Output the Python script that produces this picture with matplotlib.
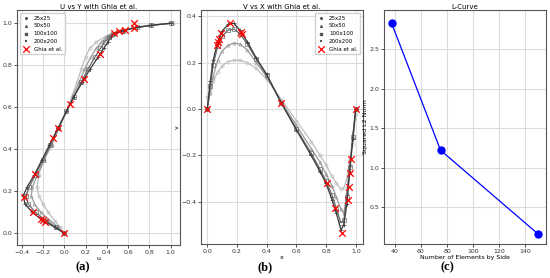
import matplotlib
matplotlib.use("Agg")
import matplotlib.pyplot as plt

# --- U along vertical centreline -------------------------------------------
y_profile = [0.0, 0.03, 0.06, 0.10, 0.14, 0.18, 0.22, 0.28, 0.35, 0.42, 0.50, 0.58,
             0.65, 0.72, 0.78, 0.84, 0.88, 0.91, 0.935, 0.95, 0.965, 0.98, 0.99, 1.0]
u_25 = [0.0, -0.04, -0.09, -0.15, -0.20, -0.24, -0.255, -0.24, -0.19, -0.12, -0.05, 0.02,
        0.07, 0.12, 0.16, 0.20, 0.24, 0.30, 0.38, 0.44, 0.53, 0.66, 0.80, 1.02]
u_50 = [0.0, -0.06, -0.13, -0.22, -0.28, -0.31, -0.30, -0.25, -0.19, -0.12, -0.05, 0.02,
        0.08, 0.14, 0.19, 0.25, 0.30, 0.35, 0.40, 0.45, 0.54, 0.67, 0.82, 1.01]
u_100 = [0.0, -0.08, -0.17, -0.27, -0.34, -0.36, -0.33, -0.27, -0.20, -0.13, -0.06, 0.02,
         0.09, 0.16, 0.22, 0.29, 0.34, 0.38, 0.42, 0.46, 0.55, 0.68, 0.82, 1.0]
u_200 = [0.0, -0.09, -0.20, -0.30, -0.37, -0.385, -0.35, -0.28, -0.21, -0.14, -0.06, 0.02,
         0.09, 0.17, 0.24, 0.32, 0.37, 0.41, 0.44, 0.47, 0.56, 0.68, 0.82, 1.0]

ghia_y = [1.0, 0.9766, 0.9688, 0.9609, 0.9531, 0.8516, 0.7344, 0.6172, 0.5, 0.4531,
          0.2813, 0.1719, 0.1016, 0.0703, 0.0625, 0.0547, 0.0]
ghia_u = [0.659, 0.659, 0.575, 0.511, 0.466, 0.333, 0.187, 0.057, -0.061, -0.106,
          -0.278, -0.383, -0.297, -0.222, -0.202, -0.181, 0.0]

# --- V along horizontal centreline -----------------------------------------
x_profile = [0.0, 0.02, 0.04, 0.07, 0.10, 0.14, 0.18, 0.22, 0.27, 0.33, 0.40, 0.50,
             0.60, 0.70, 0.76, 0.80, 0.84, 0.87, 0.90, 0.92, 0.94, 0.96, 0.98, 1.0]
v_25 = [0.05, 0.08, 0.12, 0.16, 0.185, 0.205, 0.21, 0.21, 0.20, 0.175, 0.13, 0.04,
        -0.05, -0.14, -0.20, -0.24, -0.29, -0.32, -0.345, -0.34, -0.30, -0.22, -0.15, -0.02]
v_50 = [0.0, 0.07, 0.14, 0.21, 0.25, 0.275, 0.285, 0.28, 0.255, 0.20, 0.14, 0.03,
        -0.07, -0.17, -0.23, -0.28, -0.33, -0.38, -0.43, -0.45, -0.36, -0.24, -0.12, 0.0]
v_100 = [0.0, 0.10, 0.19, 0.27, 0.315, 0.34, 0.345, 0.325, 0.28, 0.215, 0.145, 0.025,
         -0.085, -0.19, -0.26, -0.31, -0.37, -0.43, -0.49, -0.48, -0.38, -0.25, -0.12, 0.0]
v_200 = [0.0, 0.12, 0.21, 0.29, 0.335, 0.365, 0.37, 0.34, 0.29, 0.22, 0.15, 0.025,
         -0.09, -0.20, -0.27, -0.32, -0.39, -0.45, -0.52, -0.50, -0.41, -0.27, -0.13, 0.0]

ghia_x = [1.0, 0.9688, 0.9609, 0.9531, 0.9453, 0.9063, 0.8594, 0.8047, 0.5, 0.2344,
          0.2266, 0.1563, 0.0938, 0.0781, 0.0703, 0.0625, 0.0]
ghia_v = [0.0, -0.214, -0.277, -0.337, -0.392, -0.535, -0.427, -0.320, 0.025, 0.322,
          0.331, 0.371, 0.326, 0.304, 0.290, 0.275, 0.0]

# --- L-curve ----------------------------------------------------------------
elements = [37.5, 75, 150]
l2_norm = [2.83, 1.22, 0.155]

labels = ["25x25", "50x50", "100x100", "200x200"]
markers = ["o", "^", "s", "+"]
greys = ["#bdbdbd", "#9a9a9a", "#6a6a6a", "#3a3a3a"]

plt.rcParams["font.family"] = "DejaVu Sans"
fig = plt.figure(figsize=(5.5, 2.78), dpi=100)


def style(ax):
    ax.grid(True, color="#dcdcdc", lw=0.8)
    ax.set_axisbelow(True)
    ax.tick_params(labelsize=4.5, length=2, width=0.6, pad=1.5, colors="#333333")
    for s in ax.spines.values():
        s.set_color("#555555")
        s.set_linewidth(0.8)


def profiles(ax, xs, ys_list, horizontal):
    for vals, lab, m, c in zip(ys_list, labels, markers, greys):
        if horizontal:
            px, py = vals, xs
        else:
            px, py = xs, vals
        ax.plot(px, py, color=c, lw=0.9, marker=m, ms=2.2, mfc="none", mew=0.5)
        ax.scatter([], [], color="#555555", marker=m, s=1.5, label=lab)


def legend(ax, loc):
    ax.legend(loc=loc, fontsize=4, frameon=True, framealpha=0.9,
              edgecolor="#cccccc", fancybox=False, markerscale=1.0, handlelength=1.2,
              borderpad=0.5, labelspacing=0.5)


ax1 = fig.add_axes([0.031, 0.119, 0.296, 0.845])
profiles(ax1, y_profile, [u_25, u_50, u_100, u_200], True)
ax1.scatter(ghia_u, ghia_y, marker="x", color="red", s=22, lw=0.9, zorder=5, label="Ghia et al.")
ax1.set_xlim(-0.444, 1.087)
ax1.set_ylim(-0.055, 1.063)
ax1.set_xticks([-0.4, -0.2, 0.0, 0.2, 0.4, 0.6, 0.8, 1.0])
ax1.set_title("U vs Y with Ghia et al.", fontsize=5, pad=0.5)
ax1.set_xlabel("u", fontsize=4.5, labelpad=1)
legend(ax1, "upper left")
style(ax1)

ax2 = fig.add_axes([0.3655, 0.122, 0.2945, 0.842])
profiles(ax2, x_profile, [v_25, v_50, v_100, v_200], False)
ax2.scatter(ghia_x, ghia_v, marker="x", color="red", s=22, lw=0.9, zorder=5, label="Ghia et al.")
ax2.set_xlim(-0.042, 1.049)
ax2.set_ylim(-0.582, 0.427)
ax2.set_yticks([-0.4, -0.2, 0.0, 0.2, 0.4])
ax2.set_title("V vs X with Ghia et al.", fontsize=5, pad=0.5)
ax2.set_xlabel("x", fontsize=4.5, labelpad=1)
ax2.set_ylabel("v", fontsize=4.5, labelpad=1)
legend(ax2, "upper right")
style(ax2)

ax3 = fig.add_axes([0.6982, 0.122, 0.2945, 0.842])
ax3.plot(elements, l2_norm, color="blue", lw=0.9, marker="o", ms=5)
ax3.set_xlim(31.6, 156)
ax3.set_ylim(0.028, 3.0)
ax3.set_yticks([0.5, 1.0, 1.5, 2.0, 2.5])
ax3.set_title("L-Curve", fontsize=5, pad=0.5)
ax3.set_xlabel("Number of Elements by Side", fontsize=4.5, labelpad=1)
ax3.set_ylabel("Squared L2 Norm", fontsize=4.5, labelpad=1)
style(ax3)

for xpos, tag in [(0.151, "(a)"), (0.482, "(b)"), (0.813, "(c)")]:
    fig.text(xpos, 0.04, tag, ha="center", va="center", fontsize=9,
             family="Liberation Serif", weight="bold")

fig.savefig("out.png", dpi=100)
